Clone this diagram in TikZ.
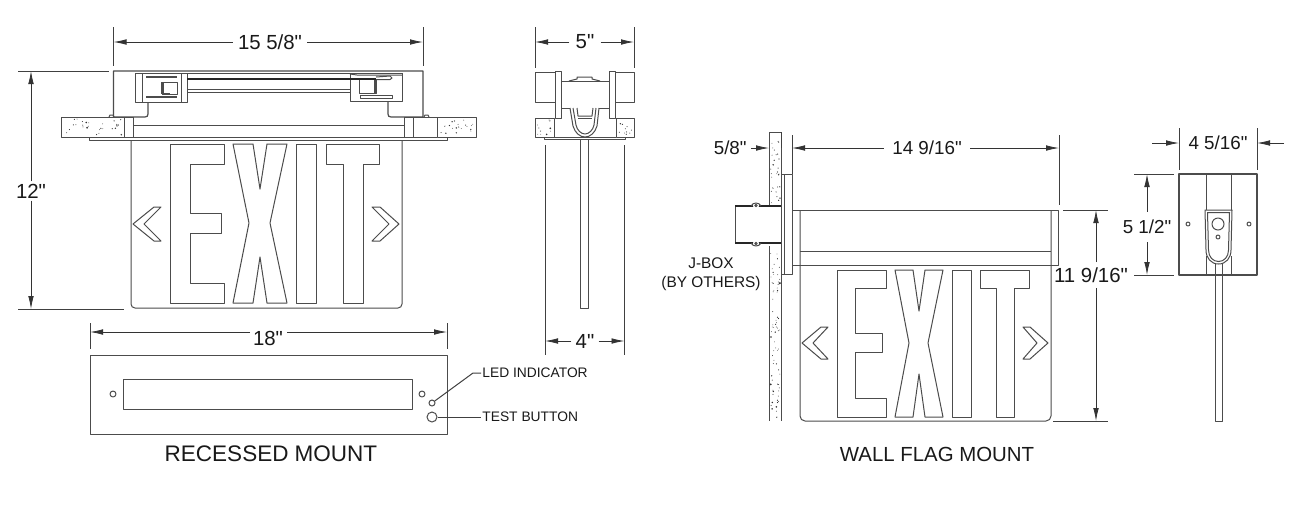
\documentclass[tikz,border=0pt]{standalone}
\usepackage{fontspec}
\setmainfont{Liberation Sans}[Ligatures=TeXOff]
\usetikzlibrary{arrows.meta}
\definecolor{ink}{gray}{0.3}
\newcommand{\speck}[5]{%
  \foreach \i in {1,...,#5}{%
    \pgfmathsetmacro{\sx}{#1+rnd*(#3-#1)}%
    \pgfmathsetmacro{\sy}{#2+rnd*(#4-#2)}%
    \pgfmathsetmacro{\sr}{0.4+1.1*rnd*rnd*rnd}%
    \fill[black!80] (\sx,\sy) circle[radius=\sr];
  }%
}
\tikzset{
  obj/.style={draw=ink,line width=0.5pt,line join=round},
  heavy/.style={draw=ink,line width=0.8pt,line join=round},
  thick3/.style={draw=black!85,line width=1.1pt},
  dimline/.style={draw=black!80,line width=0.4pt,-{Latex[length=6.5pt,width=2.8pt]}},
  extline/.style={draw=black!75,line width=0.45pt},
  dimtext/.style={font=\fontsize{10.2}{12}\selectfont,inner sep=2.5pt,text=black!90},
  dimsmall/.style={font=\fontsize{9.4}{11}\selectfont,inner sep=4pt,text=black!90},
  smalltext/.style={font=\fontsize{6.9}{9}\selectfont,inner sep=0.5pt,text=black!90},
  titletext/.style={font=\fontsize{10.2}{12}\selectfont,inner sep=0pt,text=black!90},
  jtext/.style={font=\fontsize{7.7}{9.3}\selectfont,align=center,inner sep=0pt,text=black!90}
}
\begin{document}
\begin{tikzpicture}[x=0.5pt,y=-0.5pt]
\pgfmathsetseed{4217}
\useasboundingbox (0,0) rectangle (1296,516);
\fill[white] (0,0) rectangle (1296,516);

%% ---------- RECESSED front view ----------
% housing
\draw[obj,line width=0.6pt] (148,102) -- (148,114) .. controls (148,116) and (147,117) .. (145,117) -- (113.5,117) -- (113.5,71) -- (423,71) -- (423,117) -- (391,117) .. controls (389,117) and (388,116) .. (388,114) -- (388,101);
% left clip
\draw[obj] (135,73) rectangle (187,102);
\draw[obj] (142,73) -- (142,102) (181,73) -- (181,102);
\draw[heavy,line width=1pt] (146,77) -- (177,77) (146,97) -- (177,97);
\draw[obj] (162,82) rectangle (177,94);
\draw[heavy,line width=1.1pt] (162.5,82) -- (162.5,94) (162,94) -- (170,94);
% right clip
\draw[obj] (350,73) -- (350,101) -- (402,101) -- (402,73);
\draw[obj] (359,79) rectangle (376,93);
\draw[heavy,line width=1.2pt] (375,79) -- (375,93);
\draw[obj] (360,95) rectangle (392,98);
% rails
\draw[obj] (187,73) -- (402,73);
\draw[obj] (350,74) -- (357,75) -- (402,75);
\draw[thick3] (187,79) -- (376,79);
\draw[obj] (376,77) -- (390,76) -- (392,78) -- (390,79.5) -- (376,79.5);
\draw[obj] (187,89) -- (350,89) (187,92) -- (350,92);
% concrete and ceiling frame
\draw[obj] (61,117) rectangle (124,137);
\draw[obj] (437,117) rectangle (476,137);
\draw[obj] (113.5,117) -- (124,117) (413,117) -- (437,117);
\draw[obj] (124,137) -- (437,137);
\draw[obj] (124,117) -- (133,117) (133,117) -- (133,137);
\draw[obj] (404,117) -- (404,137) (413,117) -- (413,137) (404,117) -- (413,117);
\draw[obj] (133,125) -- (404,125);
\draw[obj] (89,137) -- (89,140) -- (447,140) -- (447,137);
\draw[obj] (109,117) -- (110,115) -- (113,115) -- (114,117) (424,117) -- (425,115) -- (428,115) -- (429,117);
\speck{63}{119}{122}{135}{30}
\speck{439}{119}{474}{135}{20}
% panel
\draw[obj,rounded corners=2pt] (131,140) -- (131,308) -- (402,308) -- (402,140);
% EXIT
\draw[obj] (170,144) -- (224,144) -- (224,164) -- (190,164) -- (190,213) -- (221,213) -- (221,233) -- (190,233) -- (190,283) -- (224,283) -- (224,303) -- (170,303) -- cycle;
\draw[obj] (233,144) -- (253,144) -- (260,189) -- (267,144) -- (287,144) -- (270,223) -- (287,303) -- (267,303) -- (260,257) -- (253,303) -- (233,303) -- (249,223) -- cycle;
\draw[obj] (296,144) rectangle (316,303);
\draw[obj] (326,144) -- (379,144) -- (379,164) -- (363,164) -- (363,303) -- (343,303) -- (343,164) -- (326,164) -- cycle;
\draw[obj] (133,224) -- (154,207) -- (161,207) -- (144,224) -- (161,241) -- (154,241) -- cycle;
\draw[obj] (399,224) -- (380,207) -- (372,207) -- (389,224) -- (372,241) -- (380,241) -- cycle;

% dim 15 5/8
\coordinate (a1) at (113.5,42); \coordinate (a2) at (423,42);
\node[dimtext] (t1) at (270,42) {15 5/8"};
\draw[dimline] (t1) -- (a1); \draw[dimline] (t1) -- (a2);
\draw[extline] (113.5,27) -- (113.5,66) (423,27) -- (423,66);
% dim 12
\coordinate (b1) at (31,71); \coordinate (b2) at (31,309);
\node[dimtext,inner sep=1pt] (t2) at (31,191) {12"};
\draw[dimline] (t2) -- (b1); \draw[dimline] (t2) -- (b2);
\draw[extline] (18,71) -- (109,71) (18,309) -- (124,309);

%% ---------- bottom plate ----------
\draw[obj] (90,355) rectangle (447,434);
\draw[obj] (123,379) rectangle (412,409);
\draw[obj] (113,394) circle[radius=3];
\draw[obj] (422,394) circle[radius=3];
\node[circle,draw=ink,line width=0.5pt,minimum size=3pt,inner sep=0pt] (led) at (432,403) {};
\node[circle,draw=ink,line width=0.5pt,minimum size=5pt,inner sep=0pt] (btn) at (432,417) {};
\node[smalltext,anchor=west] (ledt) at (481,373) {LED INDICATOR};
\node[smalltext,anchor=west] (btnt) at (481,417) {TEST BUTTON};
\draw[extline,line width=0.5pt] (led) -- (473,373) -- (ledt);
\draw[extline,line width=0.5pt] (btn) -- (btnt);
\coordinate (c1) at (90,332); \coordinate (c2) at (447,332);
\node[dimtext] (t3) at (268,338) {18"};
\draw[dimline] (250,332) -- (c1); \draw[dimline] (287,332) -- (c2);
\draw[extline] (90,323) -- (90,349) (447,323) -- (447,349);
\node[titletext,font=\fontsize{11.25}{13}\selectfont] (rm) at (271,454) {RECESSED MOUNT};

%% ---------- side view ----------
\draw[obj] (555,72) -- (535,72) -- (535,102) -- (555,102);
\draw[obj] (615,72) -- (634,72) -- (634,102) -- (615,102);
\draw[obj] (555,118) -- (555,71) -- (561,71) -- (561,118) -- cycle;
\draw[obj] (609,118) -- (609,71) -- (615,71) -- (615,118) -- cycle;
\draw[obj] (561,81) -- (609,81) (561,108) -- (570,108) (599,108) -- (609,108);
\draw[obj] (569,81) -- (577,79) -- (577,77) -- (592,77) -- (592,79) -- (600,81);
\draw[obj] (535,118) rectangle (554,137);
\draw[obj] (616,118) rectangle (634,137);
\draw[obj] (554,137) -- (616,137);
\draw[obj] (544,137) -- (544,139) -- (625,139) -- (625,137);
\draw[obj] (570,108) -- (573,126) .. controls (575,133) and (580,137) .. (585,137) .. controls (590,137) and (595,133) .. (597,126) -- (599,108);
\draw[obj] (573,108) -- (576,125) .. controls (577,130) and (581,134) .. (585,134) .. controls (589,134) and (593,130) .. (594,125) -- (596,108);
\draw[obj] (577,108) -- (578,116) -- (592,116) -- (593,108);
\draw[obj] (578,118) -- (592,118);
\speck{537}{120}{552}{135}{10}
\speck{618}{120}{632}{135}{10}
\draw[obj] (580,139) -- (580,308) -- (588,308) -- (588,139);
\draw[extline] (545,145) -- (545,355) (624.5,145) -- (624.5,355);
\coordinate (e1) at (535,42); \coordinate (e2) at (634,42);
\node[dimtext,inner sep=3pt] (t4) at (585,42) {5"};
\draw[dimline] (t4) -- (e1); \draw[dimline] (t4) -- (e2);
\draw[extline] (535,27) -- (535,68) (634,27) -- (634,68);
\coordinate (f1) at (545,341); \coordinate (f2) at (624.5,341);
\node[dimtext,inner sep=2pt] (t5) at (585,341) {4"};
\draw[dimline] (t5) -- (f1); \draw[dimline] (t5) -- (f2);

%% ---------- wall flag ----------
\draw[obj] (769,205) -- (769,132) -- (781,132) -- (781,421) (769,246) -- (769,421);
\speck{770.5}{134}{780}{203}{30}
\speck{770.5}{247}{780}{420}{70}
\draw[obj] (781,174) -- (792,174) -- (792,274) -- (781,274) (784,174) -- (784,274);
\draw[extline] (792,135) -- (792,174);
% J-box
\draw[obj] (735,206) -- (735,243) (781,206) -- (781,243);
\draw[thick3] (735,206) -- (781,206) (735,243) -- (781,243);
\fill[white] (756,205) circle[radius=3.3] (756,244) circle[radius=3.3];
\draw[obj] (751,206) .. controls (753,202) and (759,202) .. (761,206);
\draw[obj] (751,243) .. controls (753,247) and (759,247) .. (761,243);
\draw[obj] (756,205.5) circle[radius=1.2] (756,243.5) circle[radius=1.2];
\node[jtext] (jb) at (711,274) {J-BOX\\(BY OTHERS)};
% body
\draw[obj] (792,210) -- (1058,210) -- (1058,265) -- (792,265);
\draw[obj] (800,251) -- (1051,251);
\draw[obj,rounded corners=2.5pt] (800,210) -- (800,421) -- (1051,421) -- (1051,210);
% EXIT
\draw[obj] (837,270) -- (886,270) -- (886,288) -- (855,288) -- (855,333) -- (882,333) -- (882,352) -- (855,352) -- (855,398) -- (886,398) -- (886,417) -- (837,417) -- cycle;
\draw[obj] (895,270) -- (913,270) -- (919,311) -- (925,270) -- (943,270) -- (928,343) -- (943,417) -- (925,417) -- (919,374) -- (913,417) -- (895,417) -- (909,343) -- cycle;
\draw[obj] (952,270) rectangle (971,417);
\draw[obj] (980,270) -- (1029,270) -- (1029,288) -- (1014,288) -- (1014,417) -- (996,417) -- (996,288) -- (980,288) -- cycle;
\draw[obj] (802,343) -- (821,327) -- (828,327) -- (813,343) -- (828,359) -- (821,359) -- cycle;
\draw[obj] (1048,343) -- (1030,327) -- (1023,327) -- (1037,343) -- (1023,359) -- (1030,359) -- cycle;
% dims
\coordinate (g1) at (792,148); \coordinate (g2) at (1059,148);
\node[dimsmall] (t6) at (927,148) {14 9/16"};
\draw[dimline] (t6) -- (g1); \draw[dimline] (t6) -- (g2);
\draw[extline] (1059,135) -- (1059,205);
\coordinate (g3) at (769,148);
\node[dimsmall,anchor=east,inner sep=2pt] (t7) at (751,148) {5/8"};
\draw[dimline] (t7) -- (g3);
\draw[extline] (781,132) -- (781,148);
\coordinate (h1) at (1096,210); \coordinate (h2) at (1096,421);
\node[dimtext,inner sep=3pt] (t8) at (1091,275) {11 9/16"};
\draw[dimline] (1096,262) -- (h1); \draw[dimline] (1096,288) -- (h2);
\draw[extline] (1063,210) -- (1108,210) (1053,421) -- (1108,421);
\node[titletext] (wm) at (937,454) {WALL FLAG MOUNT};

%% ---------- end view ----------
\draw[heavy] (1179,174) rectangle (1257,275);
\draw[obj] (1206,174) -- (1206,210) (1231,174) -- (1231,210) (1206,256) -- (1206,275) (1231,256) -- (1231,275);
\draw[obj] (1188,224) circle[radius=2];
\draw[obj] (1249,224) circle[radius=2];
\draw[obj,fill=white] (1205,210) -- (1232,210) -- (1231,250) .. controls (1231,258) and (1226,264) .. (1218.5,264) .. controls (1211,264) and (1206,258) .. (1206,250) -- cycle;
\draw[obj] (1207.5,212.5) -- (1229.5,212.5) -- (1228.5,250) .. controls (1228.5,257) and (1224,261.5) .. (1218.5,261.5) .. controls (1213,261.5) and (1208.5,257) .. (1208.5,250) -- cycle;
\draw[obj] (1218,224) circle[radius=6];
\draw[obj] (1218,237) circle[radius=2];
\draw[obj] (1215,264) -- (1215,421) -- (1222,421) -- (1222,264);
\coordinate (i1) at (1179,143); \coordinate (i2) at (1257,143);
\coordinate (i3) at (1152,143); \coordinate (i4) at (1284,143);
\node[dimsmall] (t9) at (1218,143) {4 5/16"};
\draw[dimline] (i3) -- (i1); \draw[dimline] (i4) -- (i2);
\draw[extline] (1179,128) -- (1179,170) (1257,128) -- (1257,170);
\coordinate (j1) at (1147,174); \coordinate (j2) at (1147,275);
\node[dimsmall] (t10) at (1147,227) {5 1/2"};
\draw[dimline] (t10) -- (j1); \draw[dimline] (t10) -- (j2);
\draw[extline] (1134,174) -- (1174,174) (1134,275) -- (1174,275);
\end{tikzpicture}
\end{document}
